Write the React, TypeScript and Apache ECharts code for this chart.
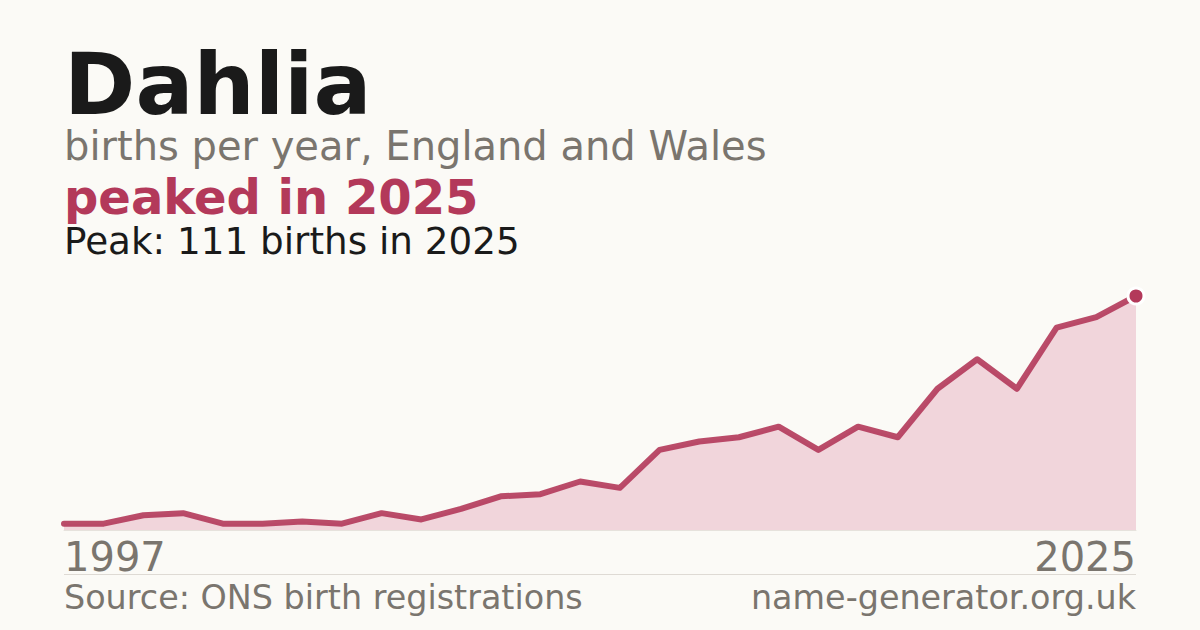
import React, { useEffect, useRef } from "react";
import * as echarts from "echarts";

// births per year, one entry per year on the x axis
const years = [
  "1997", "1998", "1999", "2000", "2001", "2002", "2003", "2004", "2005", "2006",
  "2007", "2008", "2009", "2010", "2011", "2012", "2013", "2014", "2015", "2016",
  "2017", "2018", "2019", "2021", "2022", "2023", "2024", "2025",
];
const births = [
  3, 3, 7, 8, 3, 3, 4, 3, 8, 5,
  10, 16, 17, 23, 20, 38, 42, 44, 49, 38,
  49, 44, 67, 81, 67, 96, 101, 111,
];

const name = "Dahlia";
const subtitle = "births per year, England and Wales";
const headline = "peaked in 2025";
const peakNote = "Peak: 111 births in 2025";
const sourceNote = "Source: ONS birth registrations";
const siteNote = "name-generator.org.uk";

const FONT = '"DejaVu Sans", sans-serif';
const ACCENT = "#b3395a";
const GREY = "#7a756e";

// zrender places text by its top; shift so the baseline lands where we want it
const top = (baseline: number, size: number) => baseline - size * 0.83;

export default function App() {
  const chartRef = useRef<HTMLDivElement>(null);

  useEffect(() => {
    if (chartRef.current === null) return;
    const chart = echarts.init(chartRef.current, undefined, { renderer: "svg" });

    const last = births.length - 1;

    const option: echarts.EChartsOption = {
      animation: false,
      backgroundColor: "#fbfaf6",
      grid: { left: 64, right: 64, top: 296, bottom: 100 },
      xAxis: {
        type: "category",
        data: years,
        boundaryGap: false,
        axisLine: { show: true, lineStyle: { color: "#e6e2dc", width: 1 } },
        axisTick: { show: false },
        splitLine: { show: false },
        axisLabel: {
          interval: (index: number) => index === 0 || index === last,
          showMinLabel: true,
          showMaxLabel: true,
          alignMinLabel: "left",
          alignMaxLabel: "right",
          color: GREY,
          fontFamily: FONT,
          fontSize: 40,
          margin: 7,
        },
      },
      yAxis: {
        type: "value",
        min: 0,
        max: 111,
        show: false,
        splitLine: { show: false },
      },
      series: [
        {
          type: "line",
          data: births,
          symbol: "none",
          lineStyle: { color: ACCENT, width: 6, cap: "round", join: "round", opacity: 0.9 },
          areaStyle: { color: "#f1d5db", opacity: 1 },
          z: 2,
        },
        {
          type: "scatter",
          data: [[last, births[last]]],
          symbol: "circle",
          symbolSize: 16,
          itemStyle: { color: ACCENT, borderColor: "#ffffff", borderWidth: 3, opacity: 1 },
          z: 3,
        },
      ],
      graphic: [
        {
          type: "text",
          x: 64,
          y: top(112, 86),
          style: { text: name, font: `bold 86px ${FONT}`, fill: "#1a1a1a", textVerticalAlign: "top" },
        },
        {
          type: "text",
          x: 64,
          y: top(159, 40),
          style: { text: subtitle, font: `40px ${FONT}`, fill: GREY, textVerticalAlign: "top" },
        },
        {
          type: "text",
          x: 64,
          y: top(213, 48),
          style: { text: headline, font: `bold 48px ${FONT}`, fill: ACCENT, textVerticalAlign: "top" },
        },
        {
          type: "text",
          x: 64,
          y: top(253, 37.3),
          style: { text: peakNote, font: `37.3px ${FONT}`, fill: "#1a1a1a", textVerticalAlign: "top" },
        },
        {
          type: "line",
          shape: { x1: 64, y1: 574.5, x2: 1136, y2: 574.5 },
          style: { stroke: "#dedad4", lineWidth: 1 },
        },
        {
          type: "text",
          x: 64,
          y: top(609, 33.4),
          style: { text: sourceNote, font: `33.4px ${FONT}`, fill: GREY, textVerticalAlign: "top" },
        },
        {
          type: "text",
          x: 1136,
          y: top(609, 33.4),
          style: {
            text: siteNote,
            font: `33.4px ${FONT}`,
            fill: GREY,
            textAlign: "right",
            textVerticalAlign: "top",
          },
        },
      ],
    };

    chart.setOption(option);

    return () => {
      chart.dispose();
    };
  }, []);

  return (
    <div
      ref={chartRef}
      style={{ position: "fixed", left: 0, top: 0, width: "1200px", height: "630px" }}
    />
  );
}
